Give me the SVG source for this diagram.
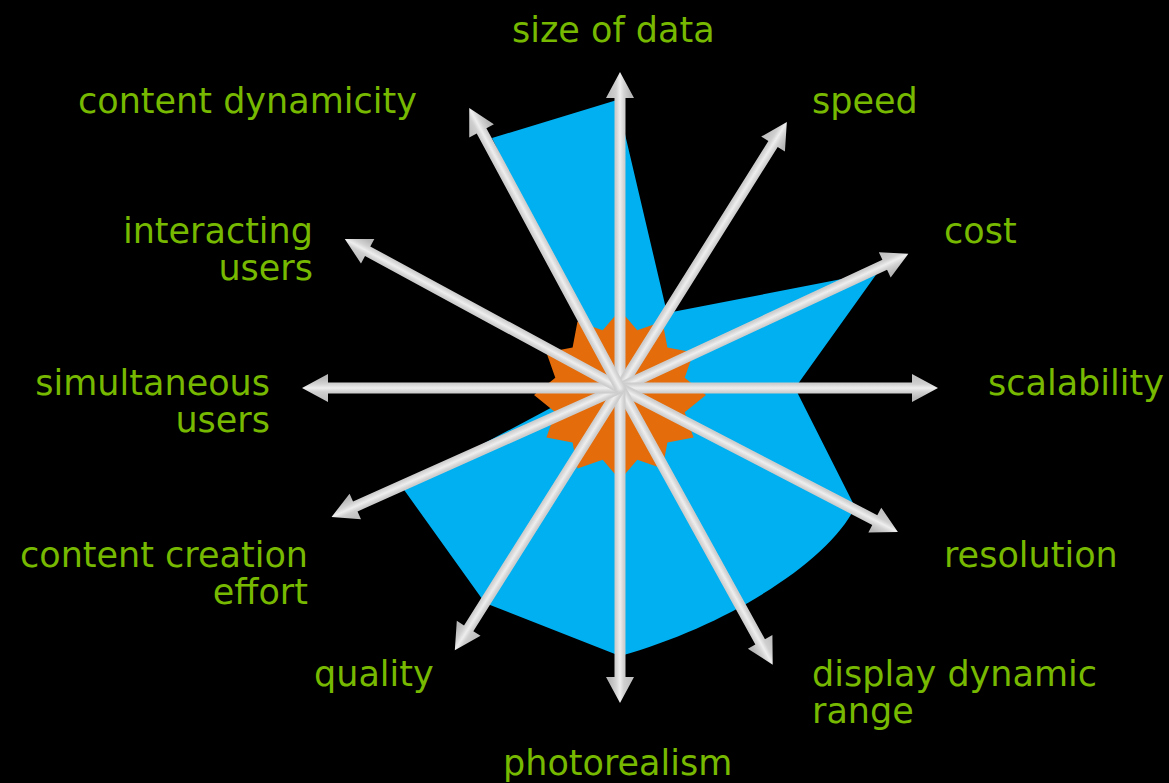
<svg xmlns="http://www.w3.org/2000/svg" width="1169" height="783" viewBox="0 0 1169 783">
<defs>
<style>
.lbl{font-family:"DejaVu Sans","Verdana",sans-serif;font-size:35px;fill:#77B900}
.r{text-anchor:end}
.arr{fill:url(#ag)}
</style>
<linearGradient id="ag" gradientUnits="userSpaceOnUse" x1="0" y1="-10" x2="0" y2="10">
<stop offset="0" stop-color="#c2c2c2"/>
<stop offset="0.3" stop-color="#cfcfcf"/>
<stop offset="0.5" stop-color="#eeeeee"/>
<stop offset="0.7" stop-color="#d2d2d2"/>
<stop offset="1" stop-color="#b8b8b8"/>
</linearGradient>
</defs>
<rect width="1169" height="783" fill="#000"/>
<g id="area">
<path fill="#00B0F0" d="M617 100 L667 313 L878 272 L795 388 L855 507 C830 560 730 625 620 656 L485 603 L402 487 L575 395 L585 330 L492 138 Z"/>
</g>
<g id="star">
<polygon fill="#E46C0A" points="620,310 637.3,330.3 662.5,321.4 667.4,347.6 693.6,352.5 684.7,377.7 706,395 684.7,412.3 693.6,437.5 667.4,442.4 662.5,468.6 637.3,459.7 620,480 602.7,459.7 577.5,468.6 572.6,442.4 546.4,437.5 555.3,412.3 534,395 555.3,377.7 546.4,352.5 572.6,347.6 577.5,321.4 602.7,330.3"/>
</g>
<g id="connectors">
<path class="arr" transform="translate(620 388) rotate(-90)" d="M0 -5.5 H290 V-14 L316 0 L290 14 V5.5 H0 Z"/>
<path class="arr" transform="translate(620 388) rotate(-57.9)" d="M0 -5.5 H288 V-14 L314 0 L288 14 V5.5 H0 Z"/>
<path class="arr" transform="translate(620 388) rotate(-24.95)" d="M0 -5.5 H292 V-14 L318 0 L292 14 V5.5 H0 Z"/>
<path class="arr" transform="translate(620 388) rotate(0)" d="M0 -5.5 H292 V-14 L318 0 L292 14 V5.5 H0 Z"/>
<path class="arr" transform="translate(620 388) rotate(27.4)" d="M0 -5.5 H287 V-14 L313 0 L287 14 V5.5 H0 Z"/>
<path class="arr" transform="translate(620 388) rotate(61.1)" d="M0 -5.5 H290 V-14 L316 0 L290 14 V5.5 H0 Z"/>
<path class="arr" transform="translate(620 388) rotate(90)" d="M0 -5.5 H289 V-14 L315 0 L289 14 V5.5 H0 Z"/>
<path class="arr" transform="translate(620 388) rotate(122.2)" d="M0 -5.5 H284 V-14 L310 0 L284 14 V5.5 H0 Z"/>
<path class="arr" transform="translate(620 388) rotate(155.9)" d="M0 -5.5 H290 V-14 L316 0 L290 14 V5.5 H0 Z"/>
<path class="arr" transform="translate(620 388) rotate(180)" d="M0 -5.5 H292 V-14 L318 0 L292 14 V5.5 H0 Z"/>
<path class="arr" transform="translate(620 388) rotate(-151.55)" d="M0 -5.5 H287 V-14 L313 0 L287 14 V5.5 H0 Z"/>
<path class="arr" transform="translate(620 388) rotate(-118.3)" d="M0 -5.5 H292 V-14 L318 0 L292 14 V5.5 H0 Z"/>
</g>
<g id="size-of-data"><text class="lbl" x="512" y="42">size of data</text></g>
<g id="speed"><text class="lbl" x="812" y="113">speed</text></g>
<g id="cost"><text class="lbl" x="944" y="243">cost</text></g>
<g id="scalability"><text class="lbl" x="988" y="395">scalability</text></g>
<g id="resolution"><text class="lbl" x="944" y="567">resolution</text></g>
<g id="display-dynamic-range"><text class="lbl" x="812" y="686">display dynamic</text><text class="lbl" x="812" y="723">range</text></g>
<g id="photorealism"><text class="lbl" x="503" y="775">photorealism</text></g>
<g id="quality"><text class="lbl" x="314" y="686">quality</text></g>
<g id="content-creation-effort"><text class="lbl r" x="308" y="567">content creation</text><text class="lbl r" x="308" y="604">effort</text></g>
<g id="simultaneous-users"><text class="lbl r" x="270" y="395">simultaneous</text><text class="lbl r" x="270" y="432">users</text></g>
<g id="interacting-users"><text class="lbl r" x="313" y="243">interacting</text><text class="lbl r" x="313" y="280">users</text></g>
<g id="content-dynamicity"><text class="lbl" x="78" y="113">content dynamicity</text></g>
</svg>
